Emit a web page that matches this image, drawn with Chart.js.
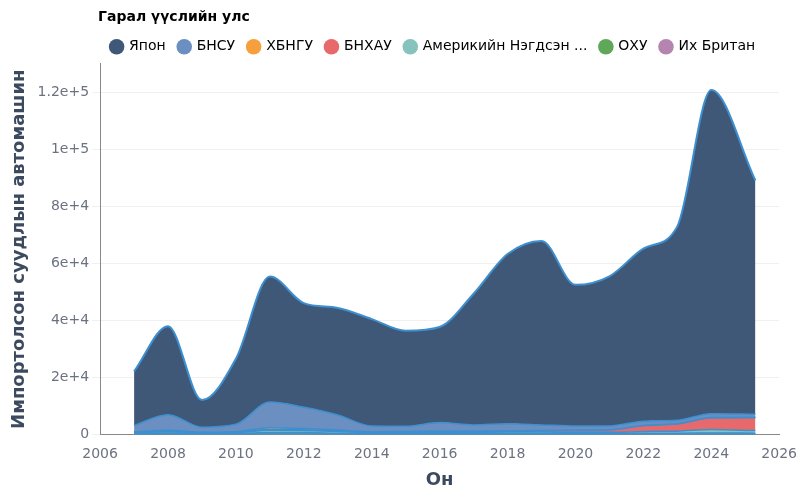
<!DOCTYPE html>
<html><head><meta charset="utf-8">
<script src="https://cdn.jsdelivr.net/npm/chart.js@4"></script>
<style>body{margin:0;background:#fff}#w{width:800px;height:500px}</style>
</head><body><div id="w"><canvas id="c"></canvas></div>
<script>
const years=[2007,2008,2009,2010,2011,2012,2013,2014,2015,2016,2017,2018,2019,2020,2021,2022,2023,2024,2025.3];
const japan=[19000,31000,9500,23000,44000,36500,37500,37500,33500,33500,46000,59500,64500,49500,52500,60500,68000,113500,82000];
const korea=[2200,5500,1800,2600,9000,7500,5300,2000,1800,3000,2200,2500,2000,1500,1300,1500,1200,1300,1000];
const xbngu=[100,200,100,100,600,400,200,100,100,100,100,100,100,100,100,100,100,200,200];
const bnhau=[200,300,100,200,300,300,300,200,300,300,300,300,400,600,800,2000,2500,4000,4500];
const usa=[300,400,200,300,800,700,600,300,300,400,400,500,500,400,400,600,700,1200,900];
const oxy=[300,500,300,300,500,500,400,300,300,300,300,300,300,300,300,400,400,500,400];
const uk=[100,100,100,100,200,200,100,100,100,100,100,100,100,100,100,100,100,100,100];
const names=["Япон","БНСУ","ХБНГУ","БНХАУ","Америкийн Нэгдсэн Улс","ОХУ","Их Британ"];
const series=[japan,korea,xbngu,bnhau,usa,oxy,uk];
const colors=["#3f5877","#6a8fc0","#f5a03c","#e8696b","#86c3bc","#5fa85a","#b584b0"];
const stackOrder=[6,5,4,3,2,1,0];
const yTicks=[0,20000,40000,60000,80000,100000,120000];
const datasets=stackOrder.map((i,k)=>({label:names[i],data:years.map((y,j)=>({x:y,y:series[i][j]})),
 backgroundColor:colors[i],borderColor:"#3d8fd0",borderWidth:i===0?2:1.5,fill:k===0?'origin':'-1',
 pointRadius:0,cubicInterpolationMode:'monotone'}));
const shiftLegend={id:'shiftLegend',afterUpdate(ch){const L=ch.legend;const d=ch.chartArea.left-L.left-2;L.left+=d;L.right+=d;}};
new Chart(document.getElementById('c'),{type:'line',data:{datasets},plugins:[shiftLegend],
options:{responsive:true,maintainAspectRatio:false,animation:false,
layout:{padding:{left:5,right:10,top:5,bottom:5}},
plugins:{legend:{position:'top',align:'start',
 title:{display:true,position:'start',text:'Гарал үүслийн улс',color:'#000',font:{family:'DejaVu Sans',size:14,weight:'bold'},padding:{top:5,bottom:0}},
 labels:{usePointStyle:true,pointStyle:'circle',boxWidth:11,boxHeight:11,padding:13,color:'#222',font:{family:'DejaVu Sans',size:14},
 generateLabels:(ch)=>[0,1,2,3,4,5,6].map(i=>({text:names[i].length>18?names[i].slice(0,17)+' ...':names[i],fillStyle:colors[i],strokeStyle:colors[i],lineWidth:0,pointStyle:'circle',datasetIndex:stackOrder.indexOf(i)}))}},
 tooltip:{enabled:false}},
scales:{x:{type:'linear',min:2006,max:2026,ticks:{stepSize:2,color:'#6b7280',font:{family:'DejaVu Sans',size:14},callback:v=>String(v)},
 grid:{display:false},border:{color:'#888'},title:{display:true,text:'Он',color:'#3b4a5e',font:{family:'DejaVu Sans',size:18,weight:'bold'}}},
 y:{stacked:true,min:0,max:130000,afterBuildTicks:a=>{a.ticks=yTicks.map(v=>({value:v}));},
 ticks:{color:'#6b7280',font:{family:'DejaVu Sans',size:14},callback:v=>v===0?'0':v.toExponential().replace('.0e','e')},
 grid:{color:'#f0f0f0'},border:{color:'#888'},title:{display:true,text:'Импортолсон суудлын автомашин',color:'#3b4a5e',font:{family:'DejaVu Sans',size:18,weight:'bold'}}}}}});
</script></body></html>
